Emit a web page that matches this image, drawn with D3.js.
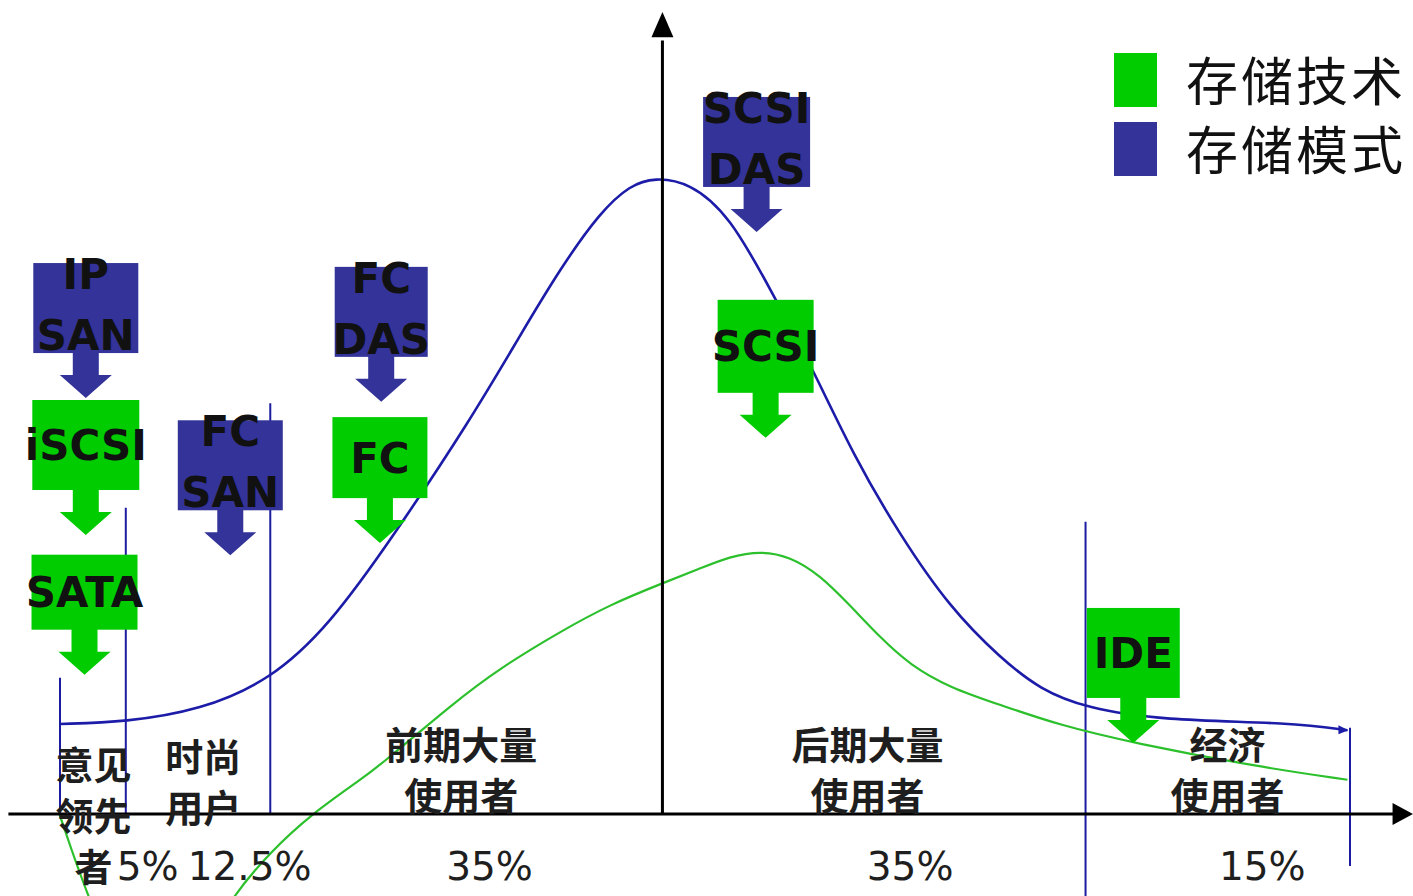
<!DOCTYPE html>
<html>
<head>
<meta charset="utf-8">
<script src="https://cdn.jsdelivr.net/npm/d3@7"></script>
<style>
  html, body { margin: 0; padding: 0; background: #fff; }
  svg { display: block; }
</style>
</head>
<body>
<div id="chart"></div>
<script>
// adoption curve units: x 0..100 across the market, y 0..100 relative share
const curveX     = [0, 5.1, 10.9, 16.3, 20.9, 25.8, 31.8, 35.7, 38.8, 41.9, 44.2, 46.1, 48.8, 51.9, 55.3, 58.4, 61.5, 65.1, 69.0, 72.9, 76.0, 79.6, 85.3, 95.6, 99.8];
const modeShare  = [14.2, 14.5, 16.4, 21.1, 29.8, 43.7, 62.1, 75.6, 86.1, 95.0, 99.2, 100.4, 99.6, 94.5, 81.9, 70.0, 56.6, 44.0, 32.5, 24.6, 19.6, 16.7, 14.8, 14.4, 13.2];

const techX      = [-0.1, 0.9, 2.1, 3.9, 6.2, 8.9, 11.2, 13.4, 16.3, 19.5, 23.3, 25.0, 30.5, 34.1, 38.8, 42.6, 46.7, 49.6, 51.9, 54.3, 56.6, 58.9, 61.2, 63.6, 65.9, 69.0, 72.9, 77.5, 83.2, 93.0, 99.8];
const techShare  = [0.3, -5.7, -12.5, -21.5, -27, -26.2, -20.7, -12.9, -6.0, 0, 5.4, 8.0, 17.5, 23.0, 28.8, 33.0, 36.4, 38.7, 40.6, 41.5, 40.6, 37.7, 33.0, 27.8, 23.5, 19.9, 17.2, 14.0, 11.2, 7.4, 5.4];

const phaseNames = ["意见领先者", "时尚用户", "前期大量使用者", "后期大量使用者", "经济使用者"];
const phaseLines = [["意见", "领先", "者"], ["时尚", "用户"], ["前期大量", "使用者"], ["后期大量", "使用者"], ["经济", "使用者"]];
const shareLabels = ["5%", "12.5%", "35%", "35%", "15%"];

const boundaryX      = [0, 5.1, 16.3, 79.5, 100];
const boundaryTop    = [21.5, 48.3, 64.8, 46.1, 13.6];
const boundaryBottom = [0, 0, 0, -13, -8.2];

const boxLabels = [["IP", "SAN"], ["iSCSI"], ["SATA"], ["FC", "SAN"], ["FC", "DAS"], ["FC"], ["SCSI", "DAS"], ["SCSI"], ["IDE"]];
const boxKind   = ["存储模式", "存储技术", "存储技术", "存储模式", "存储模式", "存储技术", "存储模式", "存储技术", "存储技术"];
const boxX      = [2.0, 2.0, 1.9, 13.2, 24.9, 24.8, 54.0, 54.7, 83.2];
const boxTop    = [86.9, 65.3, 40.9, 62.1, 86.3, 62.6, 113.1, 81.1, 32.5];

const legendLabels = ["存储技术", "存储模式"];

// layout (label anchors in curve units, sizes in px)
const phaseX = [2.6, 11.1, 31.1, 62.6, 90.5];
const phaseY = [7.7, 9.0, 10.9, 10.9, 10.9];
const shareX = [6.8, 14.7, 33.3, 65.9, 93.2];
const boxW = [105, 107, 106, 105, 93, 95, 107, 96, 93];
const boxH = [90, 90, 75, 90, 90, 81, 90, 93, 90];

const w = 1413, h = 896;
const color = { "存储技术": "#00cc00", "存储模式": "#333399" };

const xScale = d3.scaleLinear().domain([0, 100]).range([60, 1350]);
const yScale = d3.scaleLinear().domain([0, 100]).range([814, 180]);

const svg = d3.select("#chart").append("svg")
    .attr("width", w).attr("height", h);

// phase boundaries
svg.selectAll("line.bound")
    .data(boundaryX)
    .enter().append("line")
    .attr("class", "bound")
    .attr("x1", d => xScale(d)).attr("x2", d => xScale(d))
    .attr("y1", (d, i) => yScale(boundaryTop[i]))
    .attr("y2", (d, i) => yScale(boundaryBottom[i]))
    .attr("stroke", "#1c1ca0").attr("stroke-width", 2);

// curves
const line = d3.line()
    .x(d => xScale(d[0])).y(d => yScale(d[1]))
    .curve(d3.curveBasis);

svg.append("path")
    .attr("d", line(techX.map((v, i) => [v, techShare[i]])))
    .attr("fill", "none").attr("stroke", "#2cc02c").attr("stroke-width", 2.2);

svg.append("path")
    .attr("d", line(curveX.map((v, i) => [v, modeShare[i]])))
    .attr("fill", "none").attr("stroke", "#1c1ca8").attr("stroke-width", 2.6);

// small arrow at end of blue curve
const endX = xScale(curveX[curveX.length - 1]), endY = yScale(modeShare[modeShare.length - 1]);
svg.append("path")
    .attr("d", `M${endX - 9},${endY - 5}L${endX + 1},${endY}L${endX - 9},${endY + 4}Z`)
    .attr("fill", "#1c1ca8");

// axes
const axisY = xScale(46.7);
svg.append("line")
    .attr("x1", xScale(-4)).attr("x2", xScale(103.6))
    .attr("y1", yScale(0)).attr("y2", yScale(0))
    .attr("stroke", "#000").attr("stroke-width", 3);
svg.append("path")
    .attr("d", `M${xScale(103.3)},${yScale(0) - 11}L${xScale(104.9)},${yScale(0)}L${xScale(103.3)},${yScale(0) + 11}Z`)
    .attr("fill", "#000");
svg.append("line")
    .attr("x1", axisY).attr("x2", axisY)
    .attr("y1", yScale(0)).attr("y2", yScale(122))
    .attr("stroke", "#000").attr("stroke-width", 3);
svg.append("path")
    .attr("d", `M${axisY - 11},${yScale(122.5)}L${axisY},${yScale(126.5)}L${axisY + 11},${yScale(122.5)}Z`)
    .attr("fill", "#000");

// boxes with arrows
const boxes = svg.selectAll("g.box")
    .data(boxLabels)
    .enter().append("g")
    .attr("class", "box")
    .attr("transform", (d, i) => `translate(${xScale(boxX[i])},${yScale(boxTop[i])})`);

boxes.append("path")
    .attr("d", (d, i) => {
        const b = boxH[i];
        return `M-13,${b - 1}L13,${b - 1}L13,${b + 22}L26,${b + 22}L0,${b + 45}L-26,${b + 22}L-13,${b + 22}Z`;
    })
    .attr("fill", (d, i) => color[boxKind[i]]);

boxes.append("rect")
    .attr("x", (d, i) => -boxW[i] / 2)
    .attr("y", 0)
    .attr("width", (d, i) => boxW[i])
    .attr("height", (d, i) => boxH[i])
    .attr("fill", (d, i) => color[boxKind[i]]);

boxes.each(function (d, i) {
    const g = d3.select(this);
    const ys = d.length === 2 ? [11, 72] : [boxH[i] / 2];
    d.forEach((t, k) => {
        g.append("text")
            .attr("x", 0).attr("y", ys[k])
            .attr("dy", "0.36em")
            .attr("text-anchor", "middle")
            .attr("font-family", "DejaVu Sans, Verdana, sans-serif")
            .attr("font-weight", "bold")
            .attr("font-size", "42px")
            .attr("fill", "#111")
            .text(t);
    });
});

// phase names
phaseLines.forEach((lines, i) => {
    lines.forEach((t, k) => {
        svg.append("text")
            .attr("x", xScale(phaseX[i]))
            .attr("y", yScale(phaseY[i]) + k * 51)
            .attr("dy", "0.36em")
            .attr("text-anchor", "middle")
            .attr("font-family", "Noto Sans CJK SC")
            .attr("font-weight", "bold")
            .attr("font-size", "38px")
            .attr("fill", "#1e1e1e")
            .text(t);
    });
});

// share labels
svg.selectAll("text.share")
    .data(shareLabels)
    .enter().append("text")
    .attr("class", "share")
    .attr("x", (d, i) => xScale(shareX[i]))
    .attr("y", yScale(-10.4))
    .attr("text-anchor", "middle")
    .attr("font-family", "DejaVu Sans, Verdana, sans-serif")
    .attr("font-size", "39px")
    .attr("fill", "#1e1e1e")
    .text(d => d);

// legend
const legend = svg.selectAll("g.legend")
    .data(legendLabels)
    .enter().append("g")
    .attr("class", "legend")
    .attr("transform", (d, i) => `translate(1114,${53 + i * 69})`);
legend.append("rect")
    .attr("width", 43).attr("height", 54)
    .attr("fill", d => color[d]);
legend.append("text")
    .attr("x", 72).attr("y", 29)
    .attr("dy", "0.36em")
    .attr("font-family", "Noto Sans CJK SC")
    .attr("font-size", "52px")
    .attr("letter-spacing", "3px")
    .attr("fill", "#111")
    .text(d => d);
</script>
</body>
</html>
